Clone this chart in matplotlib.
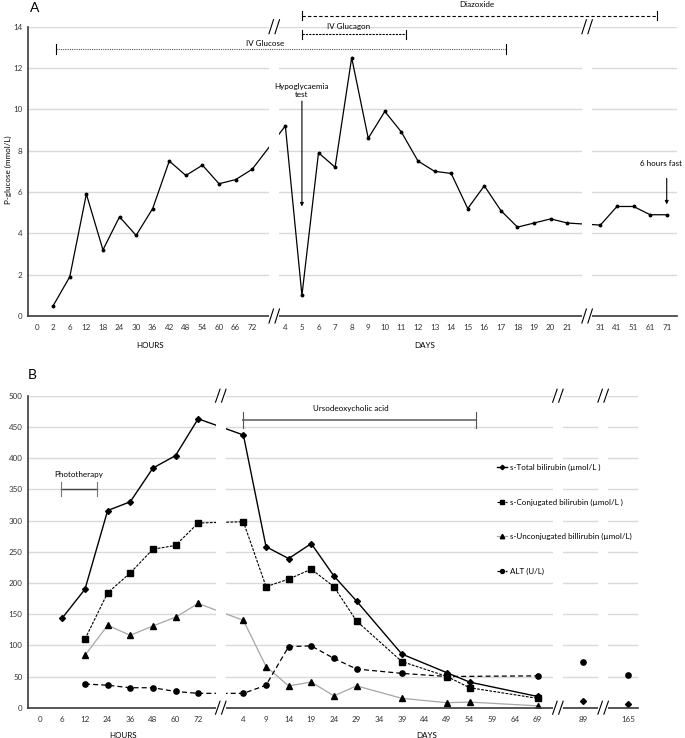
import numpy as np
import matplotlib.pyplot as plt
from matplotlib import transforms
from matplotlib.patches import Rectangle

plt.rcParams['font.family'] = ['Lato', 'DejaVu Sans']
plt.rcParams['font.size'] = 5.8

# ---------------------------------------------------------------
# Datos panel A: P-glucosa (mmol/L)
# ---------------------------------------------------------------
horas_a = ['0', '2', '6', '12', '18', '24', '30', '36', '42', '48', '54', '60', '66', '72']
dias_a = ['4', '5', '6', '7', '8', '9', '10', '11', '12', '13', '14', '15', '16', '17',
          '18', '19', '20', '21']
dias_tarde_a = ['31', '41', '51', '61', '71']

t_gluc_h = ['2', '6', '12', '18', '24', '30', '36', '42', '48', '54', '60', '66', '72']
gluc_h = [0.5, 1.9, 5.9, 3.2, 4.8, 3.9, 5.2, 7.5, 6.8, 7.3, 6.4, 6.6, 7.1]
gluc_d = [9.2, 1.0, 7.9, 7.2, 12.5, 8.6, 9.9, 8.9, 7.5, 7.0, 6.9, 5.2, 6.3, 5.1,
          4.3, 4.5, 4.7, 4.5]
gluc_tarde = [4.4, 5.3, 5.3, 4.9, 4.9]

# ---------------------------------------------------------------
# Datos panel B: bilirrubinas y ALT
# ---------------------------------------------------------------
horas_b = ['0', '6', '12', '24', '36', '48', '60', '72']
dias_b = ['4', '9', '14', '19', '24', '29', '34', '39', '44', '49', '54', '59', '64', '69']
dias_89 = ['89']
dias_165 = ['165']

t_tot_h = ['6', '12', '24', '36', '48', '60', '72']
tot_h = [144, 190, 316, 330, 384, 404, 463]
t_h = ['12', '24', '36', '48', '60', '72']
t_d = ['4', '9', '14', '19', '24', '29', '39', '49', '54', '69']
tot_d = [437, 258, 239, 263, 211, 171, 86, 56, 41, 18]
tot_tarde = [11, 6]            # dias 89 y 165

conj_h = [110, 184, 216, 254, 260, 296]
conj_d = [298, 194, 206, 222, 194, 139, 74, 50, 32, 15]

unconj_h = [84, 132, 116, 131, 145, 167]
unconj_d = [140, 66, 35, 41, 19, 35, 15, 8, 9, 3]

alt_h = [38, 36, 32, 32, 26, 23]
t_alt_d = ['4', '9', '14', '19', '24', '29', '39', '49', '69']
alt_d = [23, 36, 98, 99, 79, 62, 55, 50, 51]
alt_tarde = [74, 52]

GRID = '#d9d9d9'
EJE = '#3a3a3a'
FS = 5.8


def mapa(etiquetas, inicio):
    return {e: inicio + i for i, e in enumerate(etiquetas)}


def preparar(ax, secciones, xlim):
    ticks, labels = [], []
    for etiquetas, inicio in secciones:
        ticks += list(inicio + np.arange(len(etiquetas)))
        labels += etiquetas
    ax.set_xticks(ticks)
    ax.set_xticklabels(labels)
    ax.set_xlim(*xlim)
    ax.set_axisbelow(True)
    ax.yaxis.grid(True, color=GRID, lw=1.0)
    for s in ['top', 'right']:
        ax.spines[s].set_visible(False)
    for s in ['left', 'bottom']:
        ax.spines[s].set_color(EJE)
        ax.spines[s].set_linewidth(1.2)
    ax.tick_params(length=0, colors='#333333', labelsize=FS)
    ax.tick_params(axis='x', pad=6)
    ax.tick_params(axis='y', pad=4)


def hueco(ax, xc, ancho):
    tr = transforms.blended_transform_factory(ax.transData, ax.transAxes)
    ax.add_patch(Rectangle((xc - ancho / 2, -0.025), ancho, 1.05, transform=tr,
                           facecolor='white', edgecolor='none', zorder=3, clip_on=False))


def corte(ax, xc, y_ax, ancho_px=4.5, alto_px=14, sep_px=6):
    fig = ax.figure
    bb = ax.get_position()
    w_px = bb.width * fig.get_figwidth() * fig.dpi
    h_px = bb.height * fig.get_figheight() * fig.dpi
    x0, x1 = ax.get_xlim()
    ux = (x1 - x0) / w_px
    uy = 1.0 / h_px
    tr = transforms.blended_transform_factory(ax.transData, ax.transAxes)
    for s in (-sep_px / 2, sep_px / 2):
        ax.plot([xc + (s - ancho_px / 2) * ux, xc + (s + ancho_px / 2) * ux],
                [y_ax - alto_px / 2 * uy, y_ax + alto_px / 2 * uy],
                color='black', lw=0.8, transform=tr, clip_on=False, zorder=6)


def intervalo(ax, x0, x1, y, cap, estilo, color, lw=0.8, color_cap='black'):
    ax.plot([x0, x1], [y, y], color=color, lw=lw, linestyle=estilo, clip_on=False, zorder=5)
    for x in (x0, x1):
        ax.plot([x, x], [y - cap, y + cap], color=color_cap, lw=0.8, clip_on=False, zorder=5)


fig = plt.figure(figsize=(6.85, 7.38), dpi=100)
W, H = 685, 738

# ===============================================================
# PANEL A
# ===============================================================
axA = fig.add_axes([28 / W, 1 - 316 / H, (677 - 28) / W, (316 - 26.7) / H])
sec_a = [(horas_a, 0), (dias_a, 15), (dias_tarde_a, 34)]
preparar(axA, sec_a, (-0.52, 38.62))
axA.set_ylim(0, 14)
axA.set_yticks(np.arange(0, 15, 2))

ph, pd_, pt = mapa(horas_a, 0), mapa(dias_a, 15), mapa(dias_tarde_a, 34)
x_gluc = [ph[t] for t in t_gluc_h] + [pd_[t] for t in dias_a] + [pt[t] for t in dias_tarde_a]
y_gluc = gluc_h + gluc_d + gluc_tarde
axA.plot(x_gluc, y_gluc, color='black', lw=0.9, marker='o', ms=1.8, zorder=2)

for xc in (14.33, 33.2):
    hueco(axA, xc, 0.6)
    corte(axA, xc, 0.0)
    corte(axA, xc, 1.0)

# Tratamientos
intervalo(axA, 1.15, 28.28, 12.9, 0.24, (0, (1, 1)), '#555555')
axA.text(13.77, 13.2, 'IV Glucose', ha='center', va='center', fontsize=FS, zorder=5)
intervalo(axA, 16.02, 22.26, 13.64, 0.22, (0, (2, 1)), 'black')
axA.text(18.79, 14.0, 'IV Glucagon', ha='center', va='center', fontsize=FS, zorder=5)
intervalo(axA, 16.02, 37.4, 14.54, 0.2, (0, (3, 2)), 'black')
axA.text(26.54, 15.07, 'Diazoxide', ha='center', va='center', fontsize=FS, zorder=5)

axA.text(16, 10.92, 'Hypoglycaemia\ntest', ha='center', va='center', fontsize=FS,
         linespacing=1.25, zorder=5)
axA.annotate('', xy=(16, 5.3), xytext=(16, 10.4),
             arrowprops=dict(arrowstyle='-|>', color='black', lw=0.8, mutation_scale=5,
                             shrinkA=0, shrinkB=0), zorder=5)
axA.text(38.95, 7.4, '6 hours fast', ha='right', va='center', fontsize=FS, zorder=5)
axA.annotate('', xy=(38, 5.4), xytext=(38, 6.66),
             arrowprops=dict(arrowstyle='-|>', color='black', lw=0.8, mutation_scale=5,
                             shrinkA=0, shrinkB=0), zorder=5)

fig.text(8 / W, 1 - 170 / H, 'P-glucose (mmol/L)', rotation=90, ha='center', va='center',
         fontsize=FS)
fig.text(150 / W, 1 - 346 / H, 'HOURS', ha='center', va='center', fontsize=FS)
fig.text(425 / W, 1 - 346 / H, 'DAYS', ha='center', va='center', fontsize=FS)
fig.text(35 / W, 1 - 8 / H, 'A', ha='center', va='center', fontsize=10)

# ===============================================================
# PANEL B
# ===============================================================
axB = fig.add_axes([28 / W, 1 - 707.7 / H, (638 - 28) / W, (707.7 - 395.7) / H])
sec_b = [(horas_b, 0), (dias_b, 9), (dias_89, 24), (dias_165, 26)]
preparar(axB, sec_b, (-0.52, 26.44))
axB.set_ylim(0, 500)
axB.set_yticks(np.arange(0, 501, 50))

qh, qd = mapa(horas_b, 0), mapa(dias_b, 9)
x_tarde = [mapa(dias_89, 24)['89'], mapa(dias_165, 26)['165']]
x_tot = [qh[t] for t in t_tot_h] + [qd[t] for t in t_d]
x_sub = [qh[t] for t in t_h] + [qd[t] for t in t_d]
x_alt = [qh[t] for t in t_h] + [qd[t] for t in t_alt_d]

l_tot, = axB.plot(x_tot, tot_h + tot_d, color='black', lw=1.0, marker='D', ms=3.0, zorder=2)
axB.plot(x_tarde, tot_tarde, color='black', ls='none', marker='D', ms=3.0, zorder=2)
l_conj, = axB.plot(x_sub, conj_h + conj_d, color='black', lw=0.8, ls=(0, (2.5, 1.2)),
                   marker='s', ms=3.8, zorder=2)
l_unc, = axB.plot(x_sub, unconj_h + unconj_d, color='#a6a6a6', lw=0.9, marker='^', ms=4.3,
                  mfc='black', mec='black', zorder=2)
l_alt, = axB.plot(x_alt, alt_h + alt_d, color='black', lw=0.9, ls=(0, (4, 2.5)),
                  marker='o', ms=3.8, zorder=2)
axB.plot(x_tarde, alt_tarde, color='black', ls='none', marker='o', ms=3.8, zorder=2)

for xc in (8.0, 22.9, 24.9):
    hueco(axB, xc, 0.44)
    corte(axB, xc, 0.0, alto_px=13)
    corte(axB, xc, 1.0, alto_px=13)

intervalo(axB, 0.94, 2.52, 350, 11, '-', '#444444', lw=1.0, color_cap='#777777')
axB.text(1.74, 373, 'Phototherapy', ha='center', va='center', fontsize=FS, zorder=5)
intervalo(axB, 9.0, 19.27, 461, 13, '-', '#7f7f7f', lw=1.4, color_cap='#555555')
axB.text(13.73, 479, 'Ursodeoxycholic acid', ha='center', va='center', fontsize=FS, zorder=5)

axB.legend([l_tot, l_conj, l_unc, l_alt],
           ['s-Total bilirubin (µmol/L )', 's-Conjugated bilirubin (µmol/L )',
            's-Unconjugated billirubin (µmol/L)', 'ALT (U/L)'],
           loc='upper left', bbox_to_anchor=(497 / W, 1 - 464 / H),
           bbox_transform=fig.transFigure, frameon=False, fontsize=FS,
           handlelength=1.3, handletextpad=0.3, labelspacing=3.4,
           borderpad=0, borderaxespad=0, markerscale=0.75)

fig.text(123 / W, 1 - 735 / H, 'HOURS', ha='center', va='center', fontsize=FS)
fig.text(427 / W, 1 - 735 / H, 'DAYS', ha='center', va='center', fontsize=FS)
fig.text(32 / W, 1 - 375 / H, 'B', ha='center', va='center', fontsize=10)

fig.savefig('out.png', dpi=100)
